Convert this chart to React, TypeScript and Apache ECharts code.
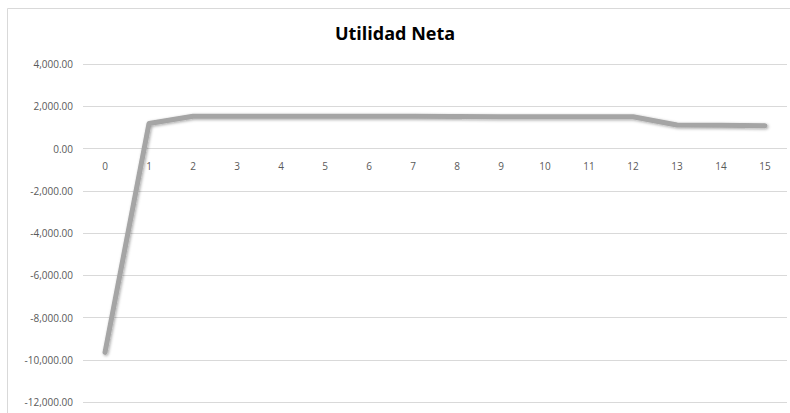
import React, { useEffect, useRef } from "react";
import * as echarts from "echarts";

const categories = ["0", "1", "2", "3", "4", "5", "6", "7", "8", "9", "10", "11", "12", "13", "14", "15"];
const utilidadNeta = [-9650, 1180, 1530, 1530, 1530, 1530, 1530, 1530, 1520, 1500, 1500, 1500, 1500, 1110, 1100, 1080];
const yMin = -12000;
const yMax = 4000;
const yStep = 2000;
const chartTitle = "Utilidad Neta";

export default function App() {
  const ref = useRef<HTMLDivElement>(null);
  useEffect(() => {
    if (!ref.current) return;
    const chart = echarts.init(ref.current, null, { renderer: "svg" });
    const font = "'Open Sans', 'Noto Sans', sans-serif";
    const gridTop = 64;
    const gridBottom = 11;
    const gridHeight = 413 - gridTop - gridBottom;
    const zeroOffset = -(gridHeight * (0 - yMin)) / (yMax - yMin);
    chart.setOption({
      animation: false,
      backgroundColor: "#ffffff",
      title: {
        text: chartTitle,
        left: "center",
        top: 19,
        textStyle: { fontFamily: font, fontWeight: "bold", fontSize: 18, color: "#000000" },
      },
      graphic: [
        {
          type: "rect",
          shape: { x: 7.5, y: 8.5, width: 800, height: 420 },
          style: { fill: "none", stroke: "#d9d9d9", lineWidth: 1 },
          silent: true,
          z: -1,
        },
      ],
      grid: { left: 83, right: 3, top: gridTop, bottom: gridBottom, containLabel: false, outerBoundsMode: "none" },
      xAxis: {
        type: "category",
        data: categories,
        boundaryGap: true,
        position: "bottom",
        offset: zeroOffset,
        axisLine: { show: false, onZero: false },
        axisTick: { show: false },
        axisLabel: { color: "#595959", fontFamily: font, fontSize: 10, margin: 12 },
        splitLine: { show: false },
      },
      yAxis: {
        type: "value",
        min: yMin,
        max: yMax,
        interval: yStep,
        axisLine: { show: false },
        axisTick: { show: false },
        axisLabel: {
          color: "#595959",
          fontFamily: font,
          fontSize: 10,
          margin: 10,
          formatter: (v: number) =>
            v.toLocaleString("en-US", { minimumFractionDigits: 2, maximumFractionDigits: 2 }),
        },
        splitLine: { lineStyle: { color: "#d9d9d9", width: 1 } },
      },
      series: [
        {
          type: "line",
          data: utilidadNeta,
          showSymbol: false,
          symbol: "none",
          lineStyle: {
            color: "#a5a5a5",
            width: 5,
            cap: "round",
            join: "round",
            shadowColor: "rgba(0,0,0,0.35)",
            shadowBlur: 3,
            shadowOffsetX: 1,
            shadowOffsetY: 1,
          },
        },
      ],
    });
    return () => chart.dispose();
  }, []);
  return (
    <div style={{ position: "absolute", left: 0, top: 0, width: 790, height: 413, overflow: "hidden" }}>
      <div ref={ref} style={{ width: 790, height: 413 }} />
    </div>
  );
}
